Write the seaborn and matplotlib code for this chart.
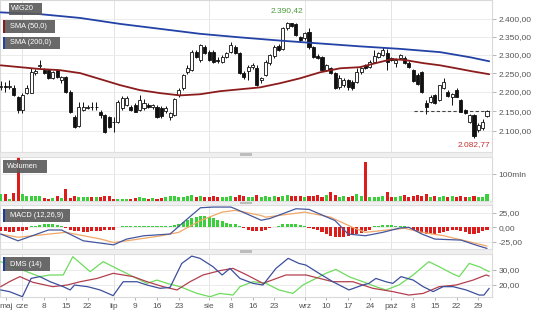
import matplotlib
matplotlib.use("Agg")
import matplotlib.pyplot as plt
from matplotlib.patches import Rectangle
from matplotlib.ticker import FixedLocator, NullLocator
import numpy as np
import pandas as pd
import seaborn as sns

sns.set_style("white")
plt.rcParams['font.family'] = ['Liberation Sans', 'DejaVu Sans']

# ---------------- data ----------------
opens = [2213, 2215, 2213, 2210, 2186, 2153, 2197, 2197, 2250, 2269,
         2258, 2258, 2236, 2258, 2231, 2239, 2199, 2135, 2113, 2153,
         2158, 2161, 2160, 2148, 2140, 2135, 2123, 2123, 2158, 2166,
         2161, 2166, 2153, 2158, 2166, 2160, 2161, 2158, 2150, 2135,
         2140, 2191, 2210, 2252, 2258, 2307, 2285, 2320, 2307, 2307,
         2285, 2280, 2293, 2307, 2320, 2304, 2250, 2255, 2266, 2263,
         2231, 2244, 2277, 2296, 2324, 2317, 2374, 2389, 2386, 2349,
         2346, 2363, 2320, 2296, 2293, 2258, 2263, 2250, 2212, 2218,
         2231, 2226, 2226, 2252, 2271, 2266, 2280, 2293, 2299, 2304,
         2290, 2277, 2290, 2290, 2277, 2258, 2244, 2252, 2171, 2174,
         2191, 2179, 2210, 2199, 2186, 2205, 2179, 2153, 2123, 2140,
         2103, 2108, 2138]
highs = [2230, 2226, 2231, 2218, 2189, 2196, 2218, 2263, 2261, 2285,
         2263, 2261, 2255, 2261, 2242, 2242, 2205, 2140, 2174, 2174,
         2166, 2174, 2174, 2153, 2143, 2138, 2135, 2179, 2189, 2189,
         2166, 2171, 2191, 2181, 2171, 2168, 2166, 2163, 2163, 2148,
         2184, 2210, 2247, 2271, 2312, 2312, 2329, 2327, 2312, 2312,
         2293, 2299, 2307, 2335, 2327, 2307, 2255, 2271, 2277, 2271,
         2239, 2285, 2302, 2327, 2329, 2376, 2390.42, 2390, 2389, 2352,
         2363, 2374, 2324, 2302, 2296, 2275, 2266, 2252, 2244, 2236,
         2234, 2231, 2263, 2266, 2275, 2285, 2312, 2307, 2320, 2317,
         2293, 2290, 2302, 2296, 2282, 2261, 2250, 2255, 2179, 2191,
         2194, 2218, 2236, 2205, 2197, 2210, 2181, 2156, 2143, 2143,
         2120, 2130, 2153]
lows = [2205, 2200, 2207, 2189, 2146, 2145, 2194, 2196, 2245, 2263,
        2247, 2234, 2234, 2237, 2223, 2197, 2146, 2108, 2110, 2150,
        2156, 2153, 2153, 2133, 2096, 2108, 2098, 2120, 2153, 2163,
        2150, 2148, 2150, 2153, 2158, 2156, 2133, 2133, 2145, 2128,
        2138, 2186, 2205, 2247, 2255, 2290, 2280, 2302, 2283, 2277,
        2277, 2277, 2290, 2304, 2302, 2247, 2234, 2231, 2261, 2215,
        2223, 2242, 2271, 2290, 2310, 2312, 2369, 2377, 2352, 2336,
        2341, 2317, 2290, 2288, 2255, 2255, 2247, 2207, 2208, 2212,
        2205, 2205, 2223, 2247, 2260, 2263, 2277, 2290, 2296, 2258,
        2283, 2266, 2288, 2275, 2263, 2226, 2218, 2197, 2143, 2171,
        2168, 2176, 2207, 2186, 2166, 2186, 2148, 2143, 2120, 2082.77,
        2098, 2103, 2135]
closes = [2216, 2214, 2216, 2191, 2153, 2191, 2210, 2252, 2255, 2271,
          2250, 2236, 2252, 2239, 2239, 2199, 2148, 2110, 2161, 2161,
          2161, 2160, 2161, 2140, 2098, 2110, 2122, 2174, 2184, 2184,
          2153, 2148, 2179, 2171, 2161, 2166, 2135, 2138, 2158, 2145,
          2181, 2205, 2244, 2263, 2307, 2293, 2327, 2304, 2285, 2280,
          2284, 2293, 2304, 2327, 2304, 2250, 2239, 2266, 2271, 2218,
          2236, 2280, 2299, 2320, 2312, 2374, 2388, 2380, 2355, 2341,
          2360, 2320, 2293, 2290, 2258, 2271, 2250, 2210, 2236, 2231,
          2212, 2210, 2252, 2263, 2263, 2280, 2296, 2304, 2312, 2280,
          2285, 2285, 2299, 2277, 2266, 2228, 2220, 2199, 2161, 2186,
          2171, 2218, 2226, 2189, 2194, 2186, 2148, 2145, 2140, 2087,
          2115, 2123, 2150]

# moving averages (day index, value)
sma50_day = [0, 4.5, 9, 13.6, 18.3, 22.9, 27.5, 32, 36.7, 41.3, 45.9, 50.5,
             55.1, 59.7, 64.3, 68.9, 73.5, 78.2, 82.7, 87.4, 90.3, 93.3,
             97.3, 101.2, 104.9, 108.5, 112.5]
sma50_val = [2271, 2266, 2261, 2258, 2250, 2234, 2218, 2205, 2197, 2191,
             2194, 2202, 2207, 2212, 2223, 2236, 2252, 2263, 2266, 2280,
             2288, 2285, 2277, 2271, 2263, 2255, 2247]
sma200_day = [0, 9, 18.3, 27.5, 36.7, 45.9, 55.1, 64.3, 73.5, 82.7, 92,
              101.2, 108.1, 112.5]
sma200_val = [2419, 2414, 2403, 2386, 2372, 2358, 2348, 2339, 2331, 2323,
              2316, 2307, 2293, 2282]

# volume (mln)
volume = [27, 27, 8, 31, 170, 27, 19, 19, 19, 19,
          13, 9, 13, 19, 13, 46, 13, 19, 15, 15,
          15, 15, 15, 15, 19, 19, 9, 6, 6, 9,
          9, 13, 15, 13, 9, 13, 9, 13, 15, 19,
          19, 15, 15, 19, 23, 15, 19, 15, 15, 19,
          15, 15, 15, 19, 15, 23, 19, 15, 15, 23,
          15, 19, 15, 19, 15, 19, 23, 19, 19, 19,
          15, 19, 19, 23, 15, 23, 35, 23, 15, 19,
          15, 19, 27, 19, 147, 15, 15, 15, 19, 35,
          15, 15, 19, 23, 15, 19, 23, 19, 27, 15,
          19, 15, 19, 15, 19, 15, 19, 15, 15, 19,
          15, 15, 27]

# MACD (12,26,9)
macd_day = [0, 4, 11, 14, 19, 26, 29, 33, 39, 43, 46, 49, 53, 54, 60, 62,
            68, 71, 77, 80, 84, 88, 92, 94, 97, 100, 106, 110, 112]
macd_val = [-11.5, -23, -4.6, -4.6, -23, -29.9, -20.1, -14.4, -11.5, 14.4,
            33.3, 34.5, 34.5, 31.6, 12, 15, 31.6, 30.5, 11.5, -11.5, -14.4,
            -8.6, -1.1, 0, -11.5, -20.1, -21.8, -31.6, -36]
signal_day = [0, 4, 15, 23, 26, 30, 37, 41, 46, 51, 54, 60, 61, 70, 76, 81,
              84, 89, 93, 97, 102, 107, 112]
signal_val = [-11.5, -17, -8.6, -20, -26, -22, -14.4, -8.6, 11.5, 25.9,
              28.8, 20.1, 17.2, 25.9, 17.2, 0, -8.6, -4.6, -1.7, -8.6,
              -14.4, -23, -32]
macd_hist = [-6, -7, -8, -8, -7, -6, -4,
             2, 3, 4, 5, 5, 5, 4, 3,
             -1,
             -4, -6, -7, -8, -8, -7, -7, -6, -5, -5, -4,
             1, 2, 2, 3, 3, 3, 3, 3, 2, 2, 2, 3, 3, 4,
             6, 9, 12, 15, 18, 20, 20, 18, 15, 13, 10, 8, 6, 5, 3,
             -2, -4, -6, -7, -6, -4,
             -1, 1,
             3, 5, 6, 6, 5, 4, 2,
             -1,
             -3, -5, -8, -11, -14, -16, -17, -16, -15, -13, -11, -9, -7, -5,
             2, 3, 4, 4, 4, 3, 3, 2,
             -1, -4, -7, -10, -12, -12, -11, -10, -8, -6, -5, -5, -6, -8,
             -11, -12, -10, -7, -4]

# DMS (14)
dms_blue_day = [0, 2, 5, 7, 9, 11.4, 14.4, 16, 17, 20, 22.9, 25.9, 28.2,
                31.4, 33.7, 36.7, 39, 41.7, 44, 45.9, 48.9, 51, 52.8, 55.1,
                58.1, 60.4, 63.4, 66.2, 68.7, 70.3, 73.3, 76.5, 80.2, 83.4,
                84.8, 86.4, 88.7, 90.3, 92.2, 95, 97.3, 99.6, 101.9, 104.2,
                107.2, 110.2, 111.3, 112.5]
dms_blue_val = [16.7, 15.6, 12.2, 24.4, 25.6, 22.2, 18.9, 16.7, 20, 18.9,
                16.7, 12.9, 22.2, 22.2, 20, 17.8, 18.4, 34.4, 39.3, 37.8,
                32.2, 26.7, 31.1, 24.4, 21.1, 20, 31.1, 37.8, 34.4, 33.3,
                27.8, 22.2, 16.7, 20, 21.1, 24.4, 22.2, 21.1, 25.6, 23.3,
                18.9, 15.6, 18.9, 18.9, 16.7, 13.3, 13.3, 17.8]
dms_red_day = [0, 2, 4.4, 7.4, 12, 15.3, 18.3, 22.2, 25.9, 30.5, 33.7,
               37.4, 40.6, 43.6, 46.6, 50.5, 53.5, 56.7, 60.4, 65.7, 70.3,
               76.5, 81.1, 85.7, 90.3, 94, 97.3, 101, 104.9, 108.8, 111.8,
               112.5]
dms_red_val = [18.9, 22.2, 25.6, 21.8, 18.9, 20, 22.2, 24.4, 27.8, 25.6,
               22.2, 18.9, 16.7, 22.2, 26.7, 29.6, 31.1, 26.7, 21.1, 26.7,
               26.7, 22.2, 22.2, 17.8, 15.6, 13.3, 14.4, 18.9, 20, 23.3,
               26.7, 26]
dms_green_day = [0, 2.8, 5, 9, 11.4, 14.4, 16.6, 20.6, 23.6, 25.9, 30.5,
                 33.7, 36, 38.3, 41.3, 45.2, 48.2, 50.5, 53.5, 55.1, 58.1,
                 61.1, 64.1, 67.3, 69.6, 72.6, 74.9, 77.2, 80.2, 83.4, 86.4,
                 88.7, 91.7, 95, 98.6, 101, 104.2, 105.6, 107.9, 110.2, 112.5]
dms_green_val = [35.6, 32, 30, 25.6, 26.7, 26.7, 38.9, 28.9, 35.6, 32.2,
                 25.6, 21.1, 23.3, 21.1, 18.9, 14.4, 12.2, 14.4, 13.3, 18.9,
                 22.2, 21.1, 16.7, 14.4, 20, 24.4, 27.8, 30.4, 25.6, 22.2,
                 18.9, 16.7, 20, 26.7, 35.6, 32.2, 27.3, 25.6, 34.4, 32.2,
                 28.9]

price_ticks = [2100, 2150, 2200, 2250, 2300, 2350, 2400]
macd_ticks = [-25, 0, 25]
dms_ticks = [20, 30]
vol_ticks = [100]
month_days = [5, 26, 48, 70, 90]
date_days = [1.3, 5, 10, 15, 20, 26, 31, 36, 41, 48, 53, 58, 63, 70, 75, 80,
             85, 90, 95, 100, 105, 110]
date_labels = ["maj", "cze", "8", "15", "22", "lip", "9", "16", "23", "sie",
               "8", "16", "23", "wrz", "10", "17", "24", "paź", "8", "15",
               "22", "29"]


def pl_num(v, dec=2):
    s = f"{v:,.{dec}f}"
    return s.replace(",", " ").replace(".", ",").replace(" ", ".")


# ---------------- layout ----------------
W, H = 536, 314
fig = plt.figure(figsize=(W / 100, H / 100), dpi=100)
fig.patch.set_facecolor("white")


def add_panel(y0, y1):
    return fig.add_axes([0, 1 - y1 / H, 492 / W, (y1 - y0) / H])


def px_rect(x0, y0, x1, y1, **kw):
    fig.patches.append(Rectangle((x0 / W, 1 - y1 / H), (x1 - x0) / W,
                                 (y1 - y0) / H, transform=fig.transFigure,
                                 **kw))


ax_p = add_panel(0, 152)
ax_v = add_panel(157, 201)
ax_m = add_panel(205, 249)
ax_d = add_panel(254, 297)

n = len(closes)
days = np.arange(n)
XL = (-0.161, 113.15)
GRID = "#e9e9e9"
LBL = "#555555"

for ax in (ax_p, ax_v, ax_m, ax_d):
    ax.set_xlim(*XL)
    ax.set_facecolor("white")
    for s in ax.spines.values():
        s.set_color("#d9d9d9")
        s.set_linewidth(0.8)
    ax.yaxis.tick_right()
    ax.tick_params(axis="y", length=3, width=0.6, color="#aaaaaa",
                   labelsize=6, labelcolor=LBL, pad=1.5)
    ax.tick_params(axis="x", bottom=False, labelbottom=False)
    for d in month_days:
        ax.axvline(d, color="#e4e4e4", lw=0.7, zorder=0)

# ---------------- price panel ----------------
ax_p.set_yscale("log")
ax_p.set_ylim(2048, 2455)
ax_p.yaxis.set_major_locator(FixedLocator(price_ticks))
ax_p.yaxis.set_minor_locator(NullLocator())
ax_p.set_yticklabels([pl_num(t) for t in price_ticks])
for t in price_ticks:
    ax_p.axhline(t, color=GRID, lw=0.6, zorder=0)

o = np.array(opens, float)
c = np.array(closes, float)
hi = np.array(highs, float)
lo = np.array(lows, float)
up = c >= o
ax_p.vlines(days, lo, hi, color="#111111", lw=0.7, zorder=3)
body_lo = np.minimum(o, c)
body_h = np.maximum(np.abs(c - o), 1.2)
ax_p.bar(days, body_h, bottom=body_lo, width=0.7,
         color=np.where(up, "white", "#111111"), edgecolor="#111111",
         linewidth=0.6, zorder=4)

sma = pd.DataFrame({"day": sma50_day, "val": sma50_val})
sns.lineplot(data=sma, x="day", y="val", ax=ax_p, color="#8c1c1c", lw=1.3,
             zorder=5)
sma2 = pd.DataFrame({"day": sma200_day, "val": sma200_val})
sns.lineplot(data=sma2, x="day", y="val", ax=ax_p, color="#2342a6", lw=1.3,
             zorder=5)
ax_p.set_xlabel("")
ax_p.set_ylabel("")

# last close level
ax_p.hlines(closes[-1], 95.2, XL[1], colors="#444444", lw=0.8,
            linestyles=(0, (3, 2)), zorder=2)

imax = int(np.argmax(hi))
imin = int(np.argmin(lo))
ax_p.annotate(pl_num(hi[imax]), (imax, hi[imax]), xytext=(0, 6),
              textcoords="offset points", ha="center", va="bottom",
              fontsize=6, color="#4c9a3c")
ax_p.annotate(pl_num(lo[imin]), (imin, lo[imin]), xytext=(0, -2),
              textcoords="offset points", ha="center", va="top",
              fontsize=6, color="#c03030")

# ---------------- volume panel ----------------
vol = np.array(volume, float)
ax_v.bar(days, vol, width=0.7, color=np.where(up, "#3ccf3c", "#dd1c1c"),
         linewidth=0, zorder=3)
ax_v.set_ylim(0, 165)
ax_v.set_yticks(vol_ticks)
ax_v.set_yticklabels([f"{t}mln" for t in vol_ticks])
for t in vol_ticks:
    ax_v.axhline(t, color=GRID, lw=0.6, zorder=0)

# ---------------- MACD panel ----------------
hist = np.array(macd_hist, float)
ax_m.bar(days, hist, width=0.7,
         color=np.where(hist >= 0, "#3ccf3c", "#dd1c1c"), linewidth=0,
         zorder=3)
m1 = pd.DataFrame({"day": macd_day, "val": macd_val})
m2 = pd.DataFrame({"day": signal_day, "val": signal_val})
sns.lineplot(data=m2, x="day", y="val", ax=ax_m, color="#f0a868", lw=0.9,
             zorder=4)
sns.lineplot(data=m1, x="day", y="val", ax=ax_m, color="#45579e", lw=0.9,
             zorder=5)
ax_m.set_ylim(-37, 38)
ax_m.set_yticks(macd_ticks)
ax_m.set_yticklabels([pl_num(t) for t in macd_ticks])
for t in macd_ticks:
    ax_m.axhline(t, color=GRID, lw=0.6, zorder=0)
ax_m.set_xlabel("")
ax_m.set_ylabel("")

# ---------------- DMS panel ----------------
for dd, vv, col in ((dms_green_day, dms_green_val, "#6ddc5c"),
                    (dms_red_day, dms_red_val, "#b2404e"),
                    (dms_blue_day, dms_blue_val, "#3d4f9c")):
    sns.lineplot(data=pd.DataFrame({"day": dd, "val": vv}), x="day", y="val",
                 ax=ax_d, color=col, lw=0.9, zorder=4)
ax_d.set_ylim(12, 40.7)
ax_d.set_yticks(dms_ticks)
ax_d.set_yticklabels([pl_num(t) for t in dms_ticks])
for t in dms_ticks:
    ax_d.axhline(t, color=GRID, lw=0.6, zorder=0)
ax_d.set_xlabel("")
ax_d.set_ylabel("")
ax_d.set_xticks(date_days)
ax_d.set_xticklabels(date_labels)
ax_d.tick_params(axis="x", bottom=True, labelbottom=True, length=2,
                 width=0.6, color="#aaaaaa", labelsize=6, labelcolor=LBL,
                 pad=2.5)
ax_d.set_xlim(*XL)

# ---------------- separators with drag handles ----------------
for y0, y1 in ((152, 157), (201, 205), (249, 254)):
    px_rect(0, y0, 492, y1, facecolor="#efefef", edgecolor="#dddddd",
            lw=0.5, zorder=1)
    ym = (y0 + y1) / 2
    px_rect(240, ym - 1.3, 252, ym + 1.3, facecolor="#bdbdbd",
            edgecolor="none", zorder=2)

# ---------------- legend tags ----------------
tags = [(9, 3, 42, 15, "WIG20", None, 11),
        (3, 20, 55, 33, "SMA (50,0)", "#8c1c1c", 10.5),
        (3, 37, 60, 49, "SMA (200,0)", "#2342a6", 10.5),
        (3, 160, 47, 173, "Wolumen", None, 7),
        (3, 209, 70, 222, "MACD (12,26,9)", "#1f3a9e", 10),
        (3, 257, 50, 271, "DMS (14)", "#1f3a9e", 10)]
for x0, y0, x1, y1, txt, stripe, tx in tags:
    px_rect(x0, y0, x1, y1, facecolor="#5c5c5c", edgecolor="none",
            alpha=0.92, zorder=10)
    if stripe:
        px_rect(x0, y0, x0 + 2.5, y1, facecolor=stripe, edgecolor="none",
                zorder=11)
    fig.text(tx / W, 1 - (y0 + y1) / 2 / H, txt, color="white", fontsize=5.3,
             va="center", ha="left", zorder=12)

fig.savefig("out.png", dpi=100, facecolor="white")
